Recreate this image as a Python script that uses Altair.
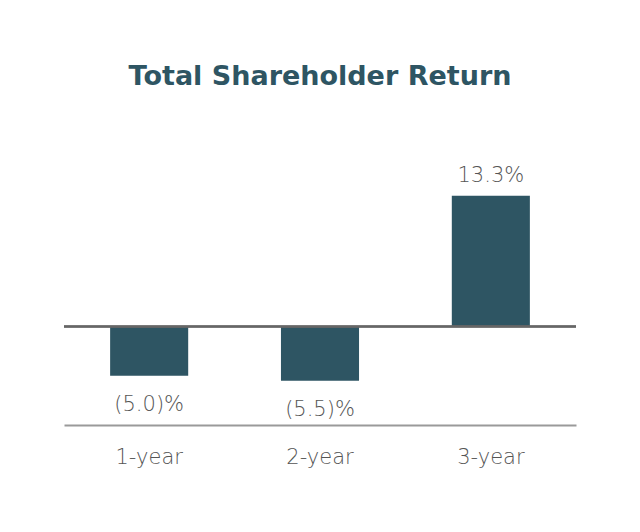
import altair as alt
import pandas as pd

periods = ["1-year", "2-year", "3-year"]
returns = [-5.0, -5.5, 13.3]
labels = ["(5.0)%", "(5.5)%", "13.3%"]

df = pd.DataFrame({"period": periods, "ret": returns, "label": labels})

BAR = "#2e5563"
GRAY = "#555555"
FONT = "DejaVu Sans"

x = alt.X("period:N", title=None,
          scale=alt.Scale(paddingInner=0.543, paddingOuter=0.27),
          axis=alt.Axis(labelAngle=0, ticks=False, domainColor="#9a9a9a", domainWidth=2,
                        labelFont=FONT, labelFontSize=21, labelColor=GRAY,
                        labelFontWeight=200,
                        labelBaseline="alphabetic", labelPadding=38))
y = alt.Y("ret:Q", title=None, scale=alt.Scale(domain=[-10, 15], nice=False),
          axis=None)

base = alt.Chart(df)

bars = base.mark_bar(color=BAR).encode(x=x, y=y)

zero = base.mark_rule(color="#666666", strokeWidth=2).encode(
    y=alt.YDatum(datum=0, axis=None))

pos = base.transform_filter("datum.ret >= 0").mark_text(
    font=FONT, fontSize=21, color=GRAY, baseline="alphabetic", dy=-14, fontWeight=200
).encode(x=x, y=y, text="label:N")

neg = base.transform_filter("datum.ret < 0").mark_text(
    font=FONT, fontSize=21, color=GRAY, baseline="alphabetic", dy=35, fontWeight=200
).encode(x=x, y=y, text="label:N")

chart = alt.layer(bars, zero, pos, neg).properties(
    width=512, height=246,
    title=alt.TitleParams("Total Shareholder Return", font=FONT, fontSize=27,
                          fontWeight="bold", color=BAR, anchor="middle", offset=74),
    autosize=alt.AutoSizeParams(type="none"),
    padding={"left": 56, "top": 171, "right": 56, "bottom": 60},
).configure_view(strokeWidth=0)

chart.save("out.html", embed_options={"renderer": "svg", "actions": False})
